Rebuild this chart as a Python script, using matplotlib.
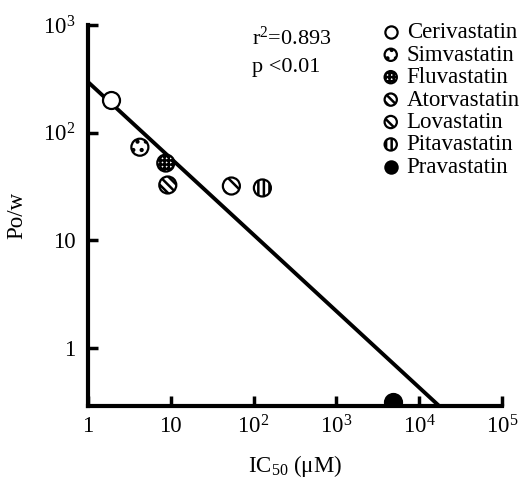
import numpy as np
import matplotlib
matplotlib.use("Agg")
import matplotlib.pyplot as plt

plt.rcParams['font.family'] = ['Liberation Serif', 'DejaVu Serif']
plt.rcParams['mathtext.fontset'] = 'custom'
plt.rcParams['mathtext.rm'] = 'Liberation Serif'
plt.rcParams['mathtext.it'] = 'Liberation Serif:italic'
plt.rcParams['hatch.linewidth'] = 1.8

# statins: IC50 (uM) vs octanol/water partition coefficient
drugs = ['Cerivastatin', 'Simvastatin', 'Fluvastatin', 'Atorvastatin',
         'Lovastatin', 'Pitavastatin', 'Pravastatin']
ic50 = [1.89, 4.23, 8.7, 9.2, 54, 128, 4870]
pow_ratio = [200, 73, 52, 32.5, 31.8, 30.5, 0.31]
fills = ['white', 'white', 'white', 'white', 'white', 'white', 'black']
hatches = [None, '..', '++++', '\\\\\\\\', '\\\\', '|||', None]

# regression line  log(Po/w) = log(a) + b*log(IC50)
fit_a = 295.0
fit_b = -0.71
r2_text = 'r$^2$=0.893'
p_text = 'p <0.01'

fs = 16.5

fig = plt.figure(figsize=(5.21, 5.00), dpi=100)
ax = fig.add_axes([0.169, 0.188, 0.794, 0.762])

xs = np.logspace(0, 5, 200)
ax.plot(xs, fit_a * xs ** fit_b, color='black', lw=2.8, zorder=1)

for name, x, y, fc, h in zip(drugs, ic50, pow_ratio, fills, hatches):
    ax.scatter([x], [y], s=150, facecolor=fc, edgecolor='black',
               linewidth=1.6, hatch=h, label=name, zorder=3)

ax.set_xscale('log')
ax.set_yscale('log')
ax.set_xlim(1, 1e5)
ax.set_ylim(0.286, 1000)

ax.set_xticks([1, 10, 100, 1e3, 1e4, 1e5])
ax.set_xticklabels(['1', '10', r'$\mathregular{10^2}$', r'$\mathregular{10^3}$',
                    r'$\mathregular{10^4}$', r'$\mathregular{10^5}$'])
ax.set_yticks([1, 10, 100, 1000])
ax.set_yticklabels(['1', '10', r'$\mathregular{10^2}$', r'$\mathregular{10^3}$'])
ax.minorticks_off()
ax.tick_params(direction='in', length=7, width=2.5, labelsize=fs)
ax.tick_params(axis='x', pad=7)
ax.tick_params(axis='y', pad=9)

for side in ['top', 'right']:
    ax.spines[side].set_visible(False)
for side in ['left', 'bottom']:
    ax.spines[side].set_linewidth(3)

ax.set_xlabel(r'IC$_{50}$ ($\mathregular{\mu}$M)', fontsize=fs, labelpad=10)
ax.set_ylabel('Po/w', fontsize=fs, labelpad=11.5)

ax.text(0.396, 0.9475, r2_text, transform=ax.transAxes, fontsize=16, va='baseline')
ax.text(0.396, 0.877, p_text, transform=ax.transAxes, fontsize=16, va='baseline')

ax.legend(loc='upper left', bbox_to_anchor=(0.704, 1.007), frameon=False,
          fontsize=fs, labelspacing=0.06, handletextpad=0.2, borderpad=0,
          borderaxespad=0, handlelength=1.0, scatterpoints=1, markerscale=0.72)

fig.savefig('out.png', dpi=100)
